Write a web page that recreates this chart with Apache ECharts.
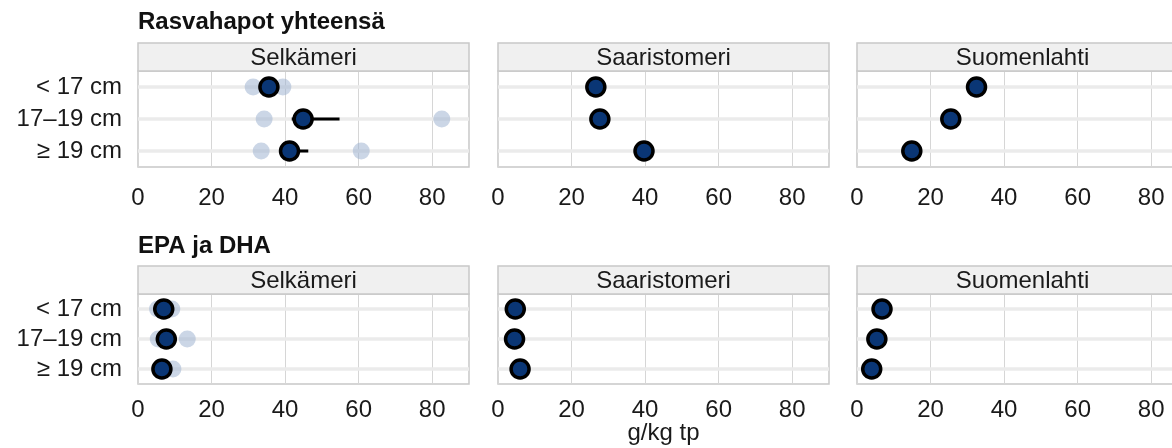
<!DOCTYPE html>
<html>
<head>
<meta charset="utf-8">
<script src="https://cdn.jsdelivr.net/npm/echarts@6/dist/echarts.min.js"></script>
<style>
  html, body { margin: 0; padding: 0; background: #fff; }
  #chart { width: 1172px; height: 448px; }
</style>
</head>
<body>
<div id="chart"></div>
<script>
// Size classes (rows) and sea areas (columns)
const sizeClasses = ['< 17 cm', '17–19 cm', '≥ 19 cm'];
const regions = ['Selkämeri', 'Saaristomeri', 'Suomenlahti'];
const sectionTitles = ['Rasvahapot yhteensä', 'EPA ja DHA'];
const unitLabel = 'g/kg tp';

// Mean values per size class (g/kg dry weight)
const totalSelkameri = [35.6, 44.9, 41.2];
const totalSaaristomeri = [26.6, 27.7, 39.7];
const totalSuomenlahti = [32.5, 25.5, 14.9];
const epaSelkameri = [7.0, 7.7, 6.5];
const epaSaaristomeri = [4.7, 4.5, 6.0];
const epaSuomenlahti = [6.8, 5.4, 4.0];

// Individual samples: [value, size class index]
const totalSelkameriSamples = [[31.3, 0], [39.4, 0], [34.3, 1], [82.6, 1], [33.5, 2], [60.7, 2]];
const epaSelkameriSamples = [[5.3, 0], [9.2, 0], [5.5, 1], [13.4, 1], [9.5, 2]];

// Spread around the mean: [low, high, size class index]
const totalSelkameriRanges = [[33.6, 37.6, 0], [41.8, 54.8, 1], [39.0, 46.3, 2]];

const FONT = '"Liberation Sans", Arial, sans-serif';
const FS = 24;
const panelLeft = [138, 498, 857];
const panelWidth = 331;
const rows = [
  { titleY: 22, stripTop: 43, gridTop: 71, gridHeight: 96, labelMargin: 19 },
  { titleY: 246, stripTop: 266, gridTop: 294, gridHeight: 90, labelMargin: 14 }
];
const stripHeight = 28;

const means = [
  [totalSelkameri, totalSaaristomeri, totalSuomenlahti],
  [epaSelkameri, epaSaaristomeri, epaSuomenlahti]
];
const samples = [
  [totalSelkameriSamples, [], []],
  [epaSelkameriSamples, [], []]
];
const ranges = [
  [totalSelkameriRanges, [], []],
  [[], [], []]
];

const grids = [], xAxes = [], yAxes = [], series = [], graphics = [];

// shared unit label under the middle column
graphics.push({
  type: 'text', x: panelLeft[1] + panelWidth / 2, y: 433,
  style: { text: unitLabel, font: FS + 'px ' + FONT, fill: '#1a1a1a', textAlign: 'center', textVerticalAlign: 'middle' }
});

rows.forEach((row, r) => {
  graphics.push({
    type: 'text', x: panelLeft[0], y: row.titleY,
    style: { text: sectionTitles[r], font: 'bold ' + FS + 'px ' + FONT, fill: '#111', textVerticalAlign: 'middle' }
  });
  regions.forEach((region, c) => {
    const idx = r * 3 + c;
    grids.push({
      left: panelLeft[c], top: row.gridTop, width: panelWidth, height: row.gridHeight,
      outerBoundsMode: 'none', containLabel: false,
      show: true, borderColor: '#c8c8c8', borderWidth: 1.5, backgroundColor: '#fff'
    });
    xAxes.push({
      type: 'value', gridIndex: idx, min: 0, max: 90, interval: 20,
      axisLine: { show: false }, axisTick: { show: false },
      axisLabel: {
        fontSize: FS, color: '#1a1a1a', fontFamily: FONT, margin: row.labelMargin,
        formatter: v => (v === 90 ? '' : String(v))
      },
      splitLine: { show: true, lineStyle: { color: '#d6d6d6', width: 1 } }
    });
    yAxes.push({
      type: 'category', gridIndex: idx, data: sizeClasses, inverse: true,
      axisLine: { show: false }, axisTick: { show: false },
      axisLabel: { show: c === 0, interval: 0, fontSize: FS, color: '#1a1a1a', fontFamily: FONT, margin: 16 },
      splitLine: { show: false }
    });

    // strip header
    graphics.push({
      type: 'rect', z: 10,
      shape: { x: panelLeft[c], y: row.stripTop, width: panelWidth, height: stripHeight },
      style: { fill: '#f0f0f0', stroke: '#c8c8c8', lineWidth: 1.5 }
    });
    graphics.push({
      type: 'text', z: 11, x: panelLeft[c] + panelWidth / 2, y: row.stripTop + stripHeight / 2 + 1,
      style: { text: region, font: FS + 'px ' + FONT, fill: '#1a1a1a', textAlign: 'center', textVerticalAlign: 'middle' }
    });

    // horizontal guide line through each size class
    series.push({
      type: 'custom', xAxisIndex: idx, yAxisIndex: idx, z: 1, silent: true,
      data: sizeClasses.map((_, i) => [0, i]),
      encode: { x: 0, y: 1 },
      renderItem: (params, api) => {
        const cs = params.coordSys;
        const y = api.coord([0, api.value(1)])[1];
        return {
          type: 'line',
          shape: { x1: cs.x, y1: y, x2: cs.x + cs.width, y2: y },
          style: { stroke: '#ebebeb', lineWidth: 3.5 }
        };
      }
    });

    // individual samples
    series.push({
      type: 'scatter', xAxisIndex: idx, yAxisIndex: idx, z: 2, silent: true,
      symbolSize: 17,
      itemStyle: { color: 'rgb(160,180,210)', opacity: 0.55 },
      data: samples[r][c]
    });

    // spread line
    series.push({
      type: 'custom', xAxisIndex: idx, yAxisIndex: idx, z: 3, silent: true,
      data: ranges[r][c],
      encode: { x: [0, 1], y: 2 },
      renderItem: (params, api) => {
        const p1 = api.coord([api.value(0), api.value(2)]);
        const p2 = api.coord([api.value(1), api.value(2)]);
        return {
          type: 'line',
          shape: { x1: p1[0], y1: p1[1], x2: p2[0], y2: p2[1] },
          style: { stroke: '#000', lineWidth: 3 }
        };
      }
    });

    // means
    series.push({
      type: 'scatter', xAxisIndex: idx, yAxisIndex: idx, z: 4, silent: true,
      symbolSize: 18,
      itemStyle: { color: '#0a3675', borderColor: '#000', borderWidth: 3.5, opacity: 1 },
      data: means[r][c].map((v, i) => [v, i])
    });
  });
});

const chart = echarts.init(document.getElementById('chart'), null, { renderer: 'canvas' });
chart.setOption({
  animation: false,
  backgroundColor: '#fff',
  grid: grids,
  xAxis: xAxes,
  yAxis: yAxes,
  series: series,
  graphic: graphics
});
</script>
</body>
</html>
